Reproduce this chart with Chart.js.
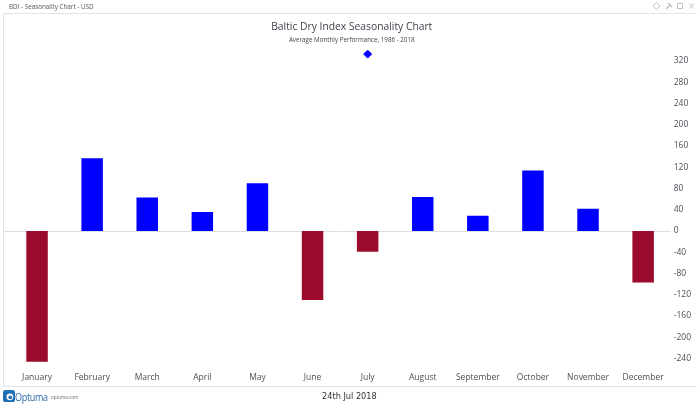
<!DOCTYPE html>
<html>
<head>
<meta charset="utf-8">
<script src="https://cdn.jsdelivr.net/npm/chart.js@4"></script>
<style>
  html, body { margin: 0; padding: 0; background: #fff; }
  body { width: 700px; height: 406px; position: relative; overflow: hidden; font-family: "Open Sans", sans-serif; color: #4a4f57; }
  #tab { position: absolute; left: 9px; top: 1px; font-size: 6.3px; line-height: 12px; color: #555; white-space: nowrap; }
  #frame { position: absolute; left: 3px; top: 13px; width: 694px; height: 374px; box-sizing: border-box; border: 1px solid #e2e2e2; border-right: 0; }
  #wrap { position: absolute; left: 0; top: 0; width: 700px; height: 406px; }
  #icons { position: absolute; left: 652px; top: 1px; }
  #brand { position: absolute; left: 3px; top: 390px; width: 12px; height: 12px; }
  #name { position: absolute; left: 15px; top: 388px; font-size: 11px; line-height: 18px; color: #2a6aa8; letter-spacing: -0.4px; transform: scaleX(0.82); transform-origin: left center; }
  #site { position: absolute; left: 51px; top: 393px; font-size: 4.6px; line-height: 8px; color: #666; white-space: nowrap; }
  #stamp { position: absolute; left: 322px; top: 389px; font: 8.2px/14px "DejaVu Sans", sans-serif; color: #333; white-space: nowrap; }
</style>
</head>
<body>
<div id="wrap"><canvas id="chart" width="700" height="406"></canvas></div>
<div id="frame"></div>
<div id="tab">BDI - Seasonality Chart - USD</div>
<svg id="icons" width="44" height="10" viewBox="0 0 44 10" fill="none" stroke="#c4c4c4" stroke-width="1">
  <path d="M4.5 1.5 L8 5 L4.5 8.5 L1 5 Z"/>
  <path d="M14 8 L18 4 M16 2 L20 6" stroke-width="1.5"/>
  <rect x="25.5" y="2.5" width="5" height="5"/>
  <path d="M37 2.5 L42 7.5 M42 2.5 L37 7.5"/>
</svg>
<svg id="brand" viewBox="0 0 14 14"><rect width="14" height="14" rx="3" fill="#1f6fb5"/><circle cx="8" cy="8" r="4" fill="#fff"/><circle cx="8.5" cy="8.5" r="2.2" fill="#1f6fb5"/></svg>
<div id="name">Optuma</div>
<div id="site">optuma.com</div>
<div id="stamp">24th Jul 2018</div>
<script>
const months = ["January","February","March","April","May","June","July","August","September","October","November","December"];
const performance = [-246, 137, 63, 36, 90, -130, -39, 64, 29, 114, 42, -97];
const marker = [null, null, null, null, null, null, 333, null, null, null, null, null];
const yTicks = [320,280,240,200,160,120,80,40,0,-40,-80,-120,-160,-200,-240];
const titleText = "Baltic Dry Index Seasonality Chart";
const subtitleText = "Average Monthly Performance, 1986 - 2018";
const upColor = "#0000ff";
const downColor = "#9b0b2b";

// Extends the zero line left to the panel edge, past the first category slot.
const zeroLine = {
  id: "zeroLine",
  beforeDatasetsDraw(chart) {
    const y = Math.round(chart.scales.y.getPixelForValue(0)) + 0.5;
    const c = chart.ctx;
    c.save();
    c.strokeStyle = "#dedede";
    c.lineWidth = 1;
    c.beginPath();
    c.moveTo(3, y);
    c.lineTo(chart.chartArea.right, y);
    c.stroke();
    c.restore();
  }
};

new Chart(document.getElementById("chart"), {
  type: "bar",
  plugins: [zeroLine],
  data: {
    labels: months,
    datasets: [
      {
        type: "line",
        data: marker,
        showLine: false,
        pointStyle: "rectRot",
        pointRadius: 4,
        pointBackgroundColor: upColor,
        pointBorderColor: upColor,
        order: 0
      },
      {
        type: "bar",
        data: performance,
        backgroundColor: performance.map(v => v < 0 ? downColor : upColor),
        barPercentage: 0.39,
        categoryPercentage: 1,
        order: 1
      }
    ]
  },
  options: {
    responsive: false,
    animation: false,
    layout: { padding: { left: 9.5, right: 6, top: 20.75, bottom: 20 } },
    plugins: {
      legend: { display: false },
      tooltip: { enabled: false },
      title: {
        display: true,
        text: titleText,
        color: "#3f444c",
        font: { family: "'Open Sans'", size: 10.3, weight: "normal", lineHeight: 1.2 },
        padding: { top: 0, bottom: 3.5 }
      },
      subtitle: {
        display: true,
        text: subtitleText,
        color: "#3f444c",
        font: { family: "'Open Sans'", size: 6.25, weight: "normal", lineHeight: 1.2 },
        padding: { top: 0, bottom: 6.25 }
      }
    },
    scales: {
      x: {
        grid: { display: false, drawTicks: false },
        border: { display: false },
        ticks: {
          color: "#4a4f57",
          font: { family: "'Open Sans'", size: 8.5, lineHeight: 1.2 },
          maxRotation: 0,
          autoSkip: false,
          padding: 3.3
        }
      },
      y: {
        position: "right",
        min: -260,
        max: 340,
        grid: { display: false, drawTicks: false },
        border: { display: false },
        afterBuildTicks(axis) { axis.ticks = yTicks.map(value => ({ value })); },
        ticks: {
          color: "#4a4f57",
          font: { family: "'Open Sans'", size: 8.5 },
          padding: 3
        }
      }
    }
  }
});
</script>
</body>
</html>
